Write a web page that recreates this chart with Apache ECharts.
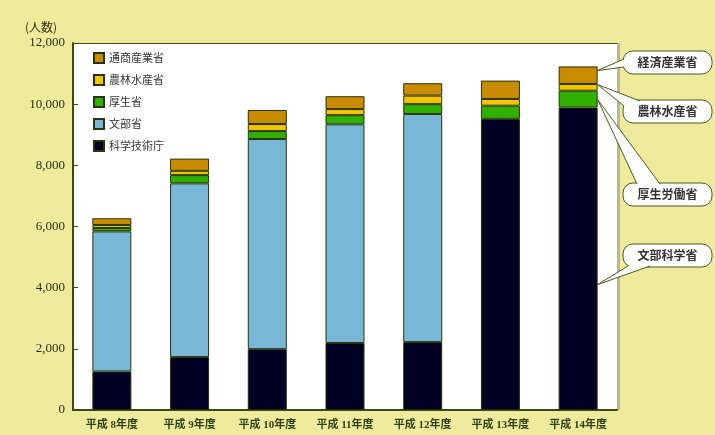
<!DOCTYPE html>
<html>
<head>
<meta charset="utf-8">
<script src="https://cdn.jsdelivr.net/npm/echarts@6/dist/echarts.min.js"></script>
<style>
html,body{margin:0;padding:0;background:#efeb9d;}
#c{width:715px;height:435px;}
</style>
</head>
<body>
<div id="c"></div>
<script>
// ---- data ----
const categories = ['平成 8年度','平成 9年度','平成 10年度','平成 11年度','平成 12年度','平成 13年度','平成 14年度'];
const kagaku = [1260, 1730, 1990, 2190, 2220, 9520, 9890];   // 科学技術庁 (H13~ 文部科学省)
const monbu  = [4580, 5680, 6870, 7150, 7460, null, null];   // 文部省
const kosei  = [110, 270, 260, 300, 320, 430, 550];          // 厚生省 (H13~ 厚生労働省)
const norin  = [100, 140, 230, 200, 280, 220, 220];          // 農林水産省
const tsusan = [220, 400, 460, 420, 405, 600, 575];          // 通商産業省 (H13~ 経済産業省)
const seriesNames = ['科学技術庁','文部省','厚生省','農林水産省','通商産業省'];
const legendOrder = ['通商産業省','農林水産省','厚生省','文部省','科学技術庁'];
const yTicks = {min: 0, max: 12000, interval: 2000};
// callouts on the last bar: label and value inside the segment pointed at
const calloutLabels = ['経済産業省','農林水産省','厚生労働省','文部科学省'];
const calloutValues = [11100, 10640, 10150, 4100];

const colors = ['#000024','#78b8d6','#30b000','#f5c400','#c98c00'];
const dataSets = [kagaku, monbu, kosei, norin, tsusan];
const axisColor = '#3a4a10';
const BAR_W = 39;

const chart = echarts.init(document.getElementById('c'));
const option = {
  backgroundColor: '#efeb9d',
  animation: false,
  grid: {left: 73, right: 98, top: 43, bottom: 25, show: true, backgroundColor: '#ffffff', borderWidth: 0,
         shadowColor: 'rgba(150,150,130,0.6)', shadowOffsetX: 3, shadowBlur: 0},
  legend: {
    data: legendOrder, orient: 'vertical', left: 88, top: 47,
    itemWidth: 10, itemHeight: 10, itemGap: 10, selectedMode: false, icon: 'rect',
    textStyle: {fontSize: 11, color: '#333', lineHeight: 12, fontFamily: 'Noto Sans CJK JP'}
  },
  xAxis: [{
    type: 'category', data: categories,
    axisLine: {lineStyle: {color: axisColor, width: 2}},
    axisTick: {show: false},
    axisLabel: {color: '#304010', fontSize: 11, fontWeight: 'bold', margin: 10,
                fontFamily: '"Liberation Serif", "Noto Sans CJK JP"'}
  }, {
    type: 'category', data: categories, position: 'top',
    axisLine: {show: true, lineStyle: {color: axisColor, width: 1}},
    axisTick: {show: false}, axisLabel: {show: false}
  }],
  yAxis: {
    type: 'value', min: yTicks.min, max: yTicks.max, interval: yTicks.interval,
    axisLine: {show: true, lineStyle: {color: axisColor, width: 2}},
    axisTick: {show: true, inside: true, length: 5, lineStyle: {color: axisColor}},
    splitLine: {show: false},
    axisLabel: {color: '#2a3010', fontSize: 13, margin: 8, fontFamily: '"Liberation Serif"',
                formatter: v => v.toLocaleString('en-US')}
  },
  series: seriesNames.map((n, i) => ({
    name: n, type: 'bar', stack: 'total', barWidth: BAR_W, data: dataSets[i],
    itemStyle: {color: colors[i], borderColor: '#26340c', borderWidth: 1}
  })),
  graphic: [{
    type: 'text', left: 25, top: 21,
    style: {text: '(人数)', fontSize: 12, fill: '#303010', fontFamily: 'Noto Sans CJK JP'}
  }]
};
chart.setOption(option);

// callouts
const boxes = [
  {x: 623, y: 51, base: [[624, 59], [624, 67]]},
  {x: 623, y: 100, base: [[640, 101], [624, 106]]},
  {x: 623, y: 183, base: [[660, 184], [637, 184]]},
  {x: 623, y: 244, base: [[650, 266], [628, 266]]}
];
const g = [option.graphic[0]];
boxes.forEach((b, i) => {
  const p = chart.convertToPixel({seriesIndex: 4}, [categories.length - 1, calloutValues[i]]);
  const tx = p[0] + BAR_W / 2, ty = p[1];
  g.push({type: 'rect', shape: {x: b.x, y: b.y, width: 89, height: 23, r: 10},
          style: {fill: '#fff', stroke: '#4a5a20', lineWidth: 1}, z: 100});
  g.push({type: 'polygon', shape: {points: [b.base[0], [tx, ty], b.base[1]]},
          style: {fill: '#fff', stroke: null}, z: 101});
  g.push({type: 'polyline', shape: {points: [b.base[0], [tx, ty], b.base[1]]},
          style: {fill: null, stroke: '#4a5a20', lineWidth: 1}, z: 102});
  g.push({type: 'text', x: b.x + 44.5, y: b.y + 11.5, z: 103,
          style: {text: calloutLabels[i], fontSize: 12, fontWeight: 'bold', fill: '#333',
                  align: 'center', verticalAlign: 'middle', fontFamily: 'Noto Sans CJK JP'}});
});
chart.setOption({graphic: g}, {replaceMerge: ['graphic']});
</script>
</body>
</html>
